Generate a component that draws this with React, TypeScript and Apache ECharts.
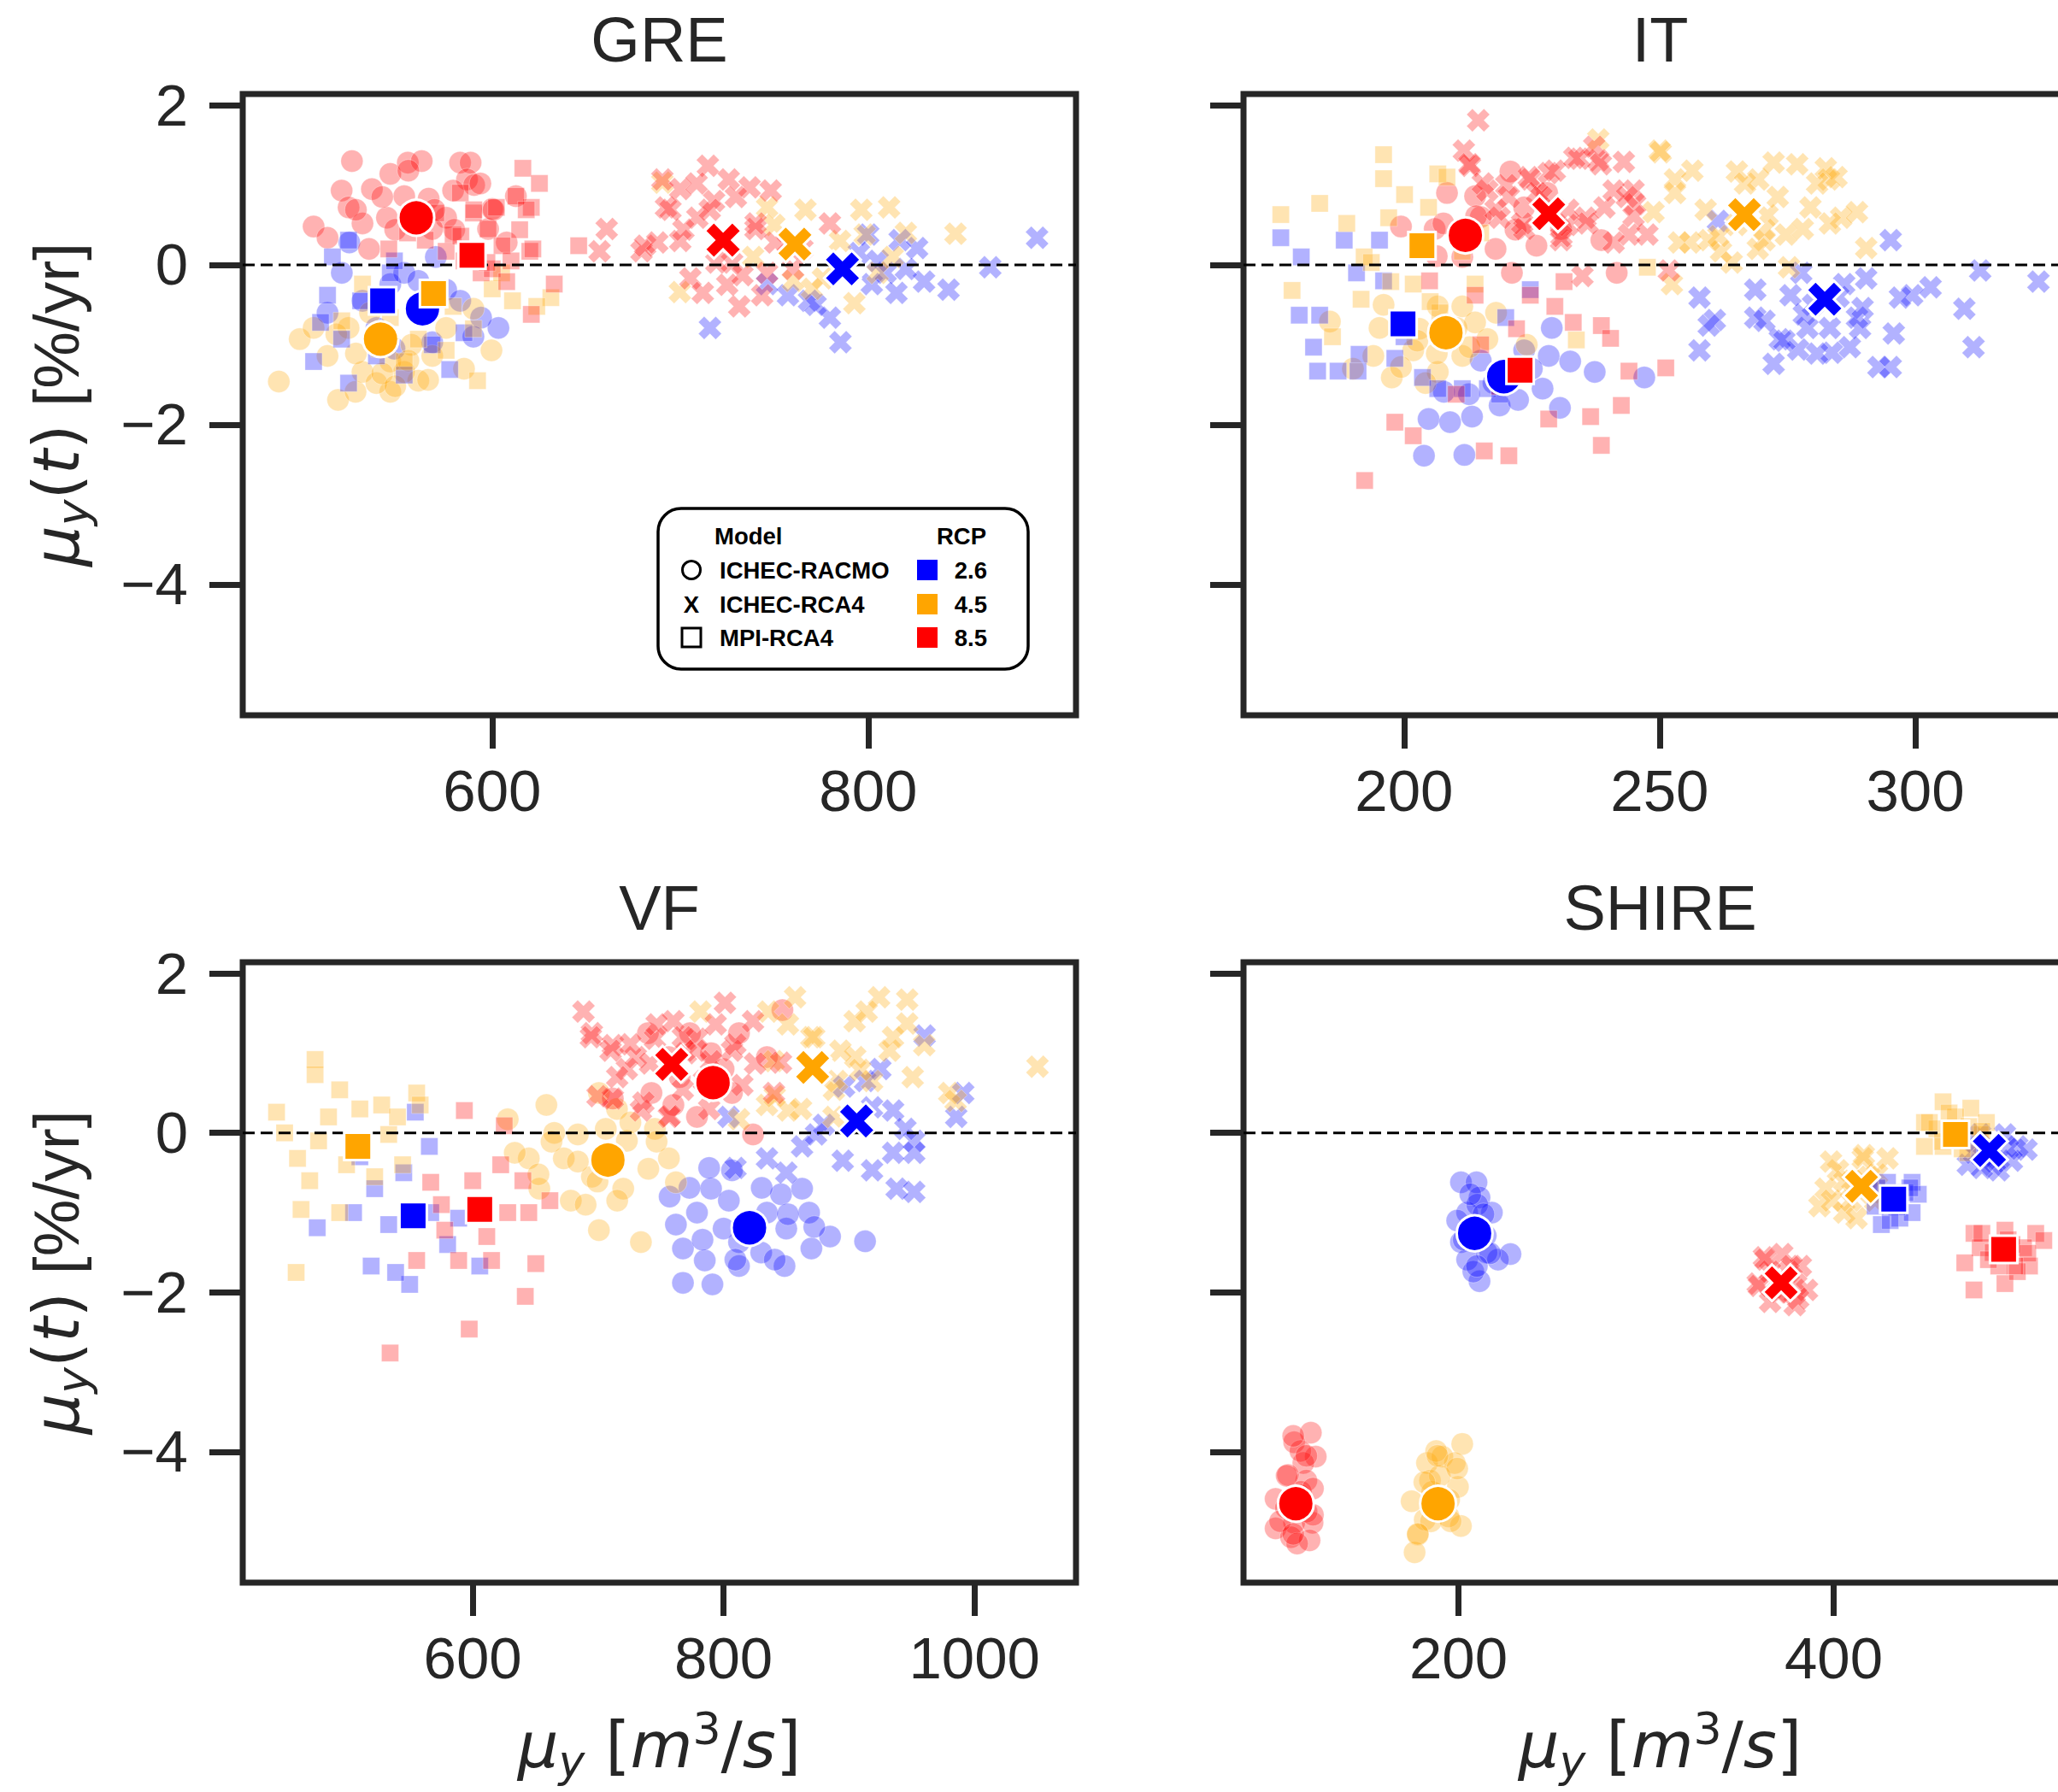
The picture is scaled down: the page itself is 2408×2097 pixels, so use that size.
import React, { useEffect, useRef } from "react";
import * as echarts from "echarts";

type Pts = [number, number][];

// ---------------- DATA ----------------
const PANEL_TITLES = ["GRE", "IT", "VF", "SHIRE"];
const MODEL_LABELS = ["ICHEC-RACMO", "ICHEC-RCA4", "MPI-RCA4"];
const RCP_LABELS = ["2.6", "4.5", "8.5"];
const Y_TICKS = [-4, -2, 0, 2];
const GRE_X_TICKS = [600, 800];
const IT_X_TICKS = [200, 250, 300];
const VF_X_TICKS = [600, 800, 1000];
const SHIRE_X_TICKS = [200, 400];

// GRE
const GRE_RACMO_26: Pts = [[603.3,-0.79],[594.1,-0.66],[524,0.28],[545.8,-0.24],[553.2,-0.1],[575.5,-0.31],[531,-0.45],[538.4,-0.79],[568.1,-0.97],[583,-0.45],[560.7,-0.2],[512.4,-0.6],[590,-0.9],[548,-1.05],[520,-0.1],[570,0.1]];
const GRE_RACMO_45: Pts = [[486.5,-1.46],[497.6,-0.93],[518,-1.69],[527.3,-1.59],[545.8,-1.59],[560.7,-1.45],[599.6,-1.07],[512.4,-1.14],[531,-1.34],[553.2,-1.34],[568.1,-1.14],[575.5,-0.79],[545.8,-1.21],[523.6,-0.79],[505,-0.79],[538.4,-1.48],[557,-1.0],[585,-1.3],[535,-0.6],[590,-0.55],[527.5,-1.11],[541.5,-1.36],[555.4,-1.2],[548.4,-1.52],[565.9,-1.44],[517.1,-0.87]];
const GRE_RACMO_85: Pts = [[525.4,1.3],[519.9,0.93],[505,0.48],[512.4,0.34],[545.8,1.14],[555.1,1.28],[562.5,1.3],[566.2,0.83],[582.9,1.28],[588.5,1.28],[586.6,1.07],[579.2,0.93],[590.4,1.0],[612.6,0.86],[523.6,0.72],[531,0.52],[597.8,0.45],[544,0.59],[575.5,0.59],[568.1,0.45],[553.2,0.86],[536,0.95],[600,0.7],[541.5,0.85],[548.4,0.44],[569.3,0.69],[579.8,0.44],[593.7,1.02],[600.7,0.69],[607.7,0.28],[555.4,1.18],[527.5,0.69],[534.5,0.2]];
const GRE_RCA4_26: Pts = [[715.8,-0.79],[785.2,-0.97],[779.6,-0.66],[768.5,-0.45],[800,0.38],[816.7,0.31],[826,0.21],[829.7,-0.21],[842.7,-0.31],[864.9,-0.03],[889.8,0.34],[801.9,-0.24],[809.3,-0.1],[757.3,-0.38],[746.2,-0.24],[815,-0.35],[795,0.15],[772,-0.5],[820,-0.05],[805,0.05]];
const GRE_RCA4_45: Pts = [[690.5,1.03],[699.8,-0.34],[766.6,0.69],[796.3,0.69],[811.1,0.72],[846.4,0.39],[792.6,-0.48],[746.2,0.72],[738.8,0.1],[775.9,-0.17],[798.1,0.38],[813,0.1],[750,0.5],[770,-0.3],[805,-0.1],[785,0.3],[820,0.4],[760,-0.2]];
const GRE_RCA4_85: Pts = [[690.5,1.07],[714.7,1.24],[725.8,1.07],[736.9,0.97],[748.1,0.93],[692.4,0.72],[679.4,0.17],[660.9,0.45],[657.1,0.17],[681.3,0.24],[709.1,0.59],[731.4,-0.52],[746.2,-0.1],[779.6,0.52],[727.6,0.03],[705.4,-0.17],[757.3,0.26],[700,0.3],[718,0.8],[740,0.45],[712,-0.35],[725,-0.25],[760,-0.05],[700,0.95],[765,0.2],[708.7,1.02],[715.7,0.69],[729.6,0.85],[740.1,0.52],[750.5,0.28],[701.7,0.44],[719.2,0.03],[733.1,-0.13],[743.6,-0.38],[687.8,0.28],[694.8,0.69]];
const GRE_MPI_26: Pts = [[523.6,0.31],[512.4,-0.38],[505,-1.21],[523.6,-1.48],[577.4,-1.31],[553.2,-1.38],[508.7,-0.72],[519.9,-0.93],[545.8,-0.1],[568.1,-1.0],[538.4,-1.14],[530,-0.45],[560,-0.6],[515,0.1],[585,-0.85],[548,0.05]];
const GRE_MPI_45: Pts = [[610.8,-0.45],[631.2,-0.41],[623.7,-0.52],[592.2,-1.45],[560.7,-0.93],[579.2,-0.52],[545.8,-0.66],[531,-0.24],[553.2,-1.21],[575.5,-1.07],[600,-0.3],[590,-0.8],[565,-0.5],[540,-1.05],[520,-0.7],[605,-0.1]];
const GRE_MPI_85: Pts = [[616.3,1.21],[602.2,0.72],[620.8,0.72],[612.6,0.86],[597.8,0.45],[605.2,0.24],[620,0.17],[646,0.24],[633,-0.24],[620.8,-0.62],[579.2,0.38],[594.1,-0.1],[575.5,0.17],[564.4,0.31],[590,0.65],[583,0.9],[570,0.65],[555,0.4],[545,0.2],[610,0.05],[600,-0.05],[585,0.05],[614.6,0.44],[621.6,0.2],[607.7,-0.21],[597.2,0.03],[583.3,0.36],[618.1,0.69],[625.1,1.02],[590.2,0.69]];
const GRE_MEAN_RACMO: Pts = [[562.9,-0.55],[540.6,-0.93],[559.6,0.59]];
const GRE_MEAN_RCA4: Pts = [[786.3,-0.05],[761,0.26],[722.8,0.31]];
const GRE_MEAN_MPI: Pts = [[541.7,-0.45],[568.8,-0.36],[589.2,0.12]];

// IT
const IT_RACMO_26: Pts = [[203.9,-2.39],[211.8,-2.38],[204.8,-1.93],[213.3,-1.9],[209,-1.97],[207.8,-1.59],[212.7,-1.62],[218.7,-1.76],[223.5,-1.07],[228.9,-0.79],[228.3,-1.14],[227.1,-1.55],[230.5,-1.79],[232.5,-1.21],[237.3,-1.34],[247,-1.41],[217.5,-1.48],[222.3,-1.69],[215,-1.2],[225,-1.3]];
const IT_RACMO_45: Pts = [[185.5,-0.71],[194,-1.14],[197.6,-1.41],[195.2,-0.79],[201.8,-1.07],[206.6,-0.52],[211.4,-0.52],[213.9,-0.72],[216.3,-0.93],[206.6,-1.34],[204.2,-1.48],[199.4,-1.28],[211.4,-1.14],[190,-1.3],[203,-0.8],[218,-0.6],[224,-1.0],[196,-0.5],[202.6,-0.95],[206.4,-1.11],[210.3,-0.79],[212.8,-1.03]];
const IT_RACMO_85: Pts = [[208.4,0.9],[220.8,1.17],[238.6,0.31],[241.6,-0.1],[199.4,0.48],[206,0.45],[213.9,0.86],[223.5,0.72],[230.7,0.45],[225.9,0.24],[211.4,0.1],[221.1,-0.1],[215,0.6],[228,0.9],[204,0.2],[207.7,0.52],[214.1,0.61],[217.9,0.2],[206.4,0.11],[221.8,0.44]];
const IT_RCA4_26: Pts = [[257.8,-0.41],[260.8,-0.69],[259.6,-0.76],[257.8,-1.07],[261.4,0.55],[268.7,-0.31],[268.7,-0.66],[272.3,-1.24],[277.1,-1.06],[278.9,-0.79],[273.5,-0.93],[283.7,-1.1],[289.2,-0.79],[288.6,-0.66],[292.8,-1.28],[295.2,-1.28],[295.8,-0.86],[295.2,0.31],[299.4,-0.38],[303,-0.28],[309.6,-0.55],[311.4,-1.03],[312.7,-0.07],[324.1,-0.21],[290.4,-0.17],[286.1,-0.24],[277.7,-0.1],[297,-0.41],[280,-0.5],[285,-0.4],[270.5,-0.7],[274.4,-0.95],[278.2,-0.62],[283.3,-0.79],[287.2,-1.03],[280.8,-1.11],[289.7,-0.54],[275.6,-0.38]];
const IT_RCA4_45: Pts = [[238,1.57],[250.2,1.41],[253,1.07],[253,0.9],[265.1,1.17],[269.3,1.07],[272.3,1.28],[282.5,1.21],[283.1,1.07],[279.5,0.72],[285.5,0.59],[288.6,0.66],[290.4,0.21],[274.7,0.38],[270.5,0.31],[259.6,0.31],[256,0.28],[252.4,-0.24],[275.3,-0.03],[271.1,0.62],[262,0.17],[248.8,0.66],[278,0.45],[265,0.5],[250,1.43],[256.4,1.18],[259,0.69],[261.5,0.36],[269.2,0.2],[273.1,0.85],[276.9,1.26],[280.8,1.02],[283.3,0.52],[266.7,1.02],[270.5,0.44],[253.8,0.28],[284.6,1.1],[264.1,0.03]];
const IT_RCA4_85: Pts = [[214.5,1.81],[211.7,1.43],[212.9,1.24],[224.7,1.07],[228.3,1.15],[234.3,1.33],[238,1.31],[243,1.29],[244.9,0.93],[245.2,0.76],[244,0.38],[235.5,0.59],[239.2,0.72],[234.9,-0.14],[251.8,-0.07],[247.6,0.38],[230.7,0.31],[223.5,0.45],[218.7,0.59],[216.3,0.93],[226,0.9],[220,1.0],[232,0.5],[212.8,1.26],[215.4,1.02],[220.5,0.85],[224.4,1.1],[229.5,1.18],[233.3,1.34],[237.2,1.48],[238.5,1.26],[241,0.93],[243.6,0.85],[244.9,0.61],[235.9,0.52],[230.8,0.36],[223.1,0.52],[217.9,0.69],[241,0.28],[226.9,0.85],[232.1,0.69]];
const IT_MPI_26: Pts = [[175.9,0.34],[179.9,0.1],[188.3,0.31],[195.2,0.31],[190.7,-0.1],[179.5,-0.63],[183.5,-0.63],[182.3,-1.03],[183.1,-1.33],[187.1,-1.33],[191,-1.33],[191.2,-1.12],[198.2,-1.17],[203.6,-1.41],[206.6,-1.55],[211.4,-1.55],[216.3,-1.55],[218.7,-1.62],[219.9,-0.66],[224.7,-0.31],[196,-0.2],[200,-0.9]];
const IT_MPI_45: Pts = [[196,1.38],[196,1.08],[175.9,0.63],[183.5,0.77],[188.8,0.52],[200.1,0.88],[206.6,1.14],[208.4,1.1],[178.1,-0.32],[191.6,-0.43],[247.6,-0.03],[233.7,-0.94],[204.8,0.72],[197,0.59],[201.8,-0.24],[213.9,-0.24],[211.4,0.17],[192.2,0.1],[186,-0.9],[207,-0.6],[215,0.4],[193.6,0.03],[197.4,-0.21],[205.1,-0.46]];
const IT_MPI_85: Pts = [[192.3,-2.7],[198.2,-1.97],[201.8,-2.14],[215.7,-2.33],[220.5,-2.39],[228.3,-1.93],[236.5,-1.9],[238.6,-2.26],[242.5,-1.76],[251.2,-1.29],[244,-1.33],[238.6,-0.76],[240.4,-0.92],[233.1,-0.72],[229.5,-0.52],[231.3,-0.21],[224.7,-0.38],[213.9,-0.38],[210.2,-1.62],[218.7,-1.52],[205,-0.2],[215,-1.0],[222,-0.8]];
const IT_MEAN_RACMO: Pts = [[219.5,-1.4],[208.2,-0.85],[212,0.37]];
const IT_MEAN_RCA4: Pts = [[282.3,-0.43],[266.6,0.63],[228.3,0.64]];
const IT_MEAN_MPI: Pts = [[199.8,-0.74],[203.5,0.24],[222.7,-1.32]];

// VF
const VF_RACMO_26: Pts = [[767.6,-1.88],[791.1,-1.9],[812.3,-1.67],[848.6,-1.67],[912.8,-1.36],[884.9,-1.3],[868.2,-1.0],[845.8,-0.77],[806.7,-0.47],[790,-0.7],[762,-1.15],[767.6,-1.45],[834.6,-1.0],[862.6,-0.7],[812.3,-1.37],[778.8,-1.0],[800,-1.2],[830,-1.5],[850,-1.2],[785,-1.6],[870,-1.45],[757,-0.8],[772.8,-0.69],[788.5,-0.44],[804.2,-0.85],[830.4,-0.69],[851.3,-1.02],[872.3,-1.18],[783.2,-1.34],[809.4,-1.59],[840.8,-1.59]];
const VF_RACMO_45: Pts = [[658.7,0.35],[627.9,0.17],[700.6,-1.22],[734.1,-1.37],[653.1,-0.7],[678.2,-0.85],[695,-0.55],[706.1,0.05],[722.9,-0.1],[745.3,0.05],[756.4,-0.32],[762,-0.62],[672.6,-0.32],[644.7,-0.32],[633.5,-0.25],[683.8,-0.02],[700.6,0.5],[690,-0.9],[720,-0.7],[740,-0.45],[665,0.0],[715,0.3],[662.8,-0.11],[683.8,-0.36],[725.7,0.13],[746.6,-0.11],[699.5,-0.61],[715.2,-0.85],[652.4,-0.52]];
const VF_RACMO_85: Pts = [[846.9,1.54],[739.7,1.25],[742.5,0.5],[711.7,0.43],[773.2,1.25],[812.3,1.25],[778.8,0.2],[823.5,-0.02],[756.4,0.95],[806.7,0.5],[834.6,0.95],[790,1.0],[765,0.7],[760,0.35],[800,0.8]];
const VF_RCA4_26: Pts = [[960.3,1.22],[896.1,0.58],[912.8,0.65],[918.4,0.32],[935.2,0.28],[952,-0.1],[952,-0.25],[938,-0.7],[952,-0.74],[991.1,0.5],[985.5,0.2],[834.6,-0.32],[809.5,-0.44],[803.9,0.2],[862.6,-0.17],[873.7,-0.02],[918.4,-0.47],[935.2,-0.25],[925,0.8],[895,-0.35],[880,0.1],[945,0.05],[850,-0.5]];
const VF_RCA4_45: Pts = [[857,1.7],[781.6,1.52],[924,1.7],[946.4,1.67],[946.4,1.37],[904.5,1.4],[932.4,1.03],[1050.3,0.83],[979.9,0.5],[834.6,0.35],[851.4,0.28],[812.3,0.17],[890.5,0.65],[918.4,0.65],[887.7,0.2],[870,1.2],[905,0.95],[960,1.1],[985,0.4],[840,0.9],[835.6,1.52],[851.3,1.36],[872.3,1.2],[893.2,1.03],[914.1,1.52],[935.1,1.2],[908.9,0.79],[888,0.54],[861.8,0.3],[840.8,0.46],[950.8,0.7]];
const VF_RCA4_85: Pts = [[688.3,1.52],[695,1.25],[711.7,1.1],[711.7,0.43],[722.9,0.8],[745.3,1.18],[778.8,1.18],[801.1,1.63],[823.5,1.4],[806.7,1.03],[784.4,0.65],[756.4,0.2],[734.1,0.28],[840.2,0.5],[845.8,0.88],[770,1.0],[730,0.95],[790,0.9],[760,1.4],[815,0.6],[694.2,1.2],[709.9,1.03],[725.7,1.11],[741.4,0.87],[715.2,0.7],[746.6,1.36],[767.5,1.2],[778,1.03],[793.7,1.36],[809.4,1.11],[825.1,0.87],[736.1,0.38],[767.5,0.54],[788.5,0.3],[699.5,0.46],[757.1,0.21]];
const VF_MPI_26: Pts = [[476,-1.19],[519,-1.67],[549.7,-1.9],[554.2,0.26],[565.4,-0.17],[521.8,-0.7],[505,-1.0],[533,-1.15],[566.5,-1.0],[605.6,-1.67],[588.8,-1.07],[538.5,-1.75],[510,-0.3],[545,-0.5],[580,-1.4]];
const VF_MPI_45: Pts = [[474.3,0.92],[474.3,0.73],[443.6,0.26],[459.2,-1.75],[463.1,-0.96],[493.9,0.54],[527.4,0.35],[555.3,0.5],[558.1,0.35],[460.3,-0.32],[477.1,-0.1],[499.4,-0.4],[521.8,-0.55],[533,-0.02],[493.9,-1.0],[544.1,-0.4],[450,0.0],[485,0.2],[510,0.3],[470,-0.6],[540,0.2]];
const VF_MPI_85: Pts = [[534.1,-2.76],[597.2,-2.46],[641.9,-2.05],[593.3,0.28],[625.1,0.09],[650.3,-1.64],[644.7,-1.0],[622.3,-0.4],[611.2,-1.3],[577.7,-1.22],[566.5,-0.62],[588.8,-1.6],[555.3,-1.6],[627.9,-1.0],[661.5,-0.85],[600,-0.6],[640,-0.6],[615,-1.6],[575,-0.9]];
const VF_MEAN_RACMO: Pts = [[820.7,-1.19],[707.8,-0.34],[791.6,0.63]];
const VF_MEAN_RCA4: Pts = [[906.1,0.15],[871,0.82],[758.7,0.86]];
const VF_MEAN_MPI: Pts = [[552.5,-1.04],[508.4,-0.17],[605.6,-0.96]];

// SHIRE
const SH_RACMO_26: Pts = [[201.3,-0.62],[209.6,-0.62],[211.2,-0.81],[204.6,-1.0],[217.8,-1.0],[214.5,-1.29],[201.3,-1.37],[227.7,-1.52],[221.1,-1.59],[204.6,-1.59],[211.2,-1.86],[207.9,-1.74],[205,-1.2],[215,-1.5],[210,-0.9],[206.3,-0.77],[213.3,-1.02],[202.8,-1.34],[216.8,-1.51],[209.8,-1.67],[199.3,-1.1]];
const SH_RACMO_45: Pts = [[202,-3.9],[183.2,-4.14],[191.4,-4.06],[198,-4.14],[184.8,-4.36],[199.7,-4.44],[175,-4.62],[178.3,-5.04],[176.6,-5.26],[201.3,-4.93],[194.7,-4.81],[188.1,-3.99],[186,-4.5],[195,-4.6],[182,-4.85],[190,-4.3],[188.8,-4.05],[199.3,-4.21],[181.8,-4.38],[192.3,-4.62],[185.3,-4.87],[178.3,-5.03],[195.8,-4.87]];
const SH_RACMO_85: Pts = [[121.3,-3.76],[112.4,-3.88],[123.9,-4.06],[117.3,-4.14],[118.9,-4.36],[102.5,-4.59],[112.4,-4.89],[102.5,-4.96],[122.2,-4.89],[110.7,-5.07],[120.6,-5.11],[115.7,-3.99],[109.1,-4.29],[116,-4.5],[108,-4.7],[119,-4.75],[114,-5.15],[111.9,-3.8],[118.9,-4.05],[108.4,-4.3],[115.4,-4.54],[122.4,-4.79],[104.9,-4.87],[111.9,-5.03],[122.4,-4.46]];
const SH_RCA4_26: Pts = [[471.5,-0.4],[478.1,-0.02],[491.3,-0.02],[497.9,-0.17],[502.8,-0.21],[488,-0.47],[474.8,-0.25],[484.7,-0.4],[480,-0.3],[495,-0.35],[475.5,-0.11],[486,-0.36],[493,-0.2],[479,-0.44]];
const SH_RCA4_45: Pts = [[395.7,-0.7],[402.3,-0.47],[415.5,-0.32],[428.7,-0.32],[392.4,-0.92],[405.6,-1.0],[422.1,-0.85],[412.2,-1.07],[399,-0.85],[418.8,-0.55],[410,-0.6],[420,-0.75],[398.6,-0.36],[405.6,-0.61],[416.1,-0.28],[423.1,-0.52],[409.1,-0.85]];
const SH_RCA4_85: Pts = [[362.8,-1.56],[372.6,-1.52],[382.5,-1.67],[359.5,-1.89],[385.8,-1.97],[366.1,-2.12],[379.2,-2.16],[376,-1.74],[366.1,-1.74],[370,-2.0],[380,-1.9],[363.6,-1.59],[377.6,-1.67],[370.6,-2.0],[381.1,-2.08],[360.1,-1.92]];
const SH_MPI_26: Pts = [[428.7,-0.62],[441.8,-0.62],[445.1,-0.77],[422.1,-0.92],[435.3,-1.07],[425.4,-1.15],[441.8,-1.0],[418.8,-0.7],[432,-0.9],[438,-0.75],[423.1,-0.69],[433.6,-0.93],[440.6,-0.69],[430.1,-1.1]];
const SH_MPI_45: Pts = [[458.3,0.39],[473.1,0.31],[448.4,0.13],[448.4,-0.17],[458.3,-0.17],[471.5,-0.25],[481.4,0.13],[478.1,-0.02],[464.9,0.2],[455,0.05],[468,-0.1],[451,0.13],[461.5,0.25],[472,0.08],[458,-0.11],[468.5,-0.2],[479,0.02]];
const SH_MPI_85: Pts = [[474.8,-1.26],[491.3,-1.22],[507.7,-1.26],[501.2,-1.44],[478.1,-1.44],[488,-1.67],[504.4,-1.67],[491.3,-1.89],[474.8,-1.97],[469.9,-1.63],[497.9,-1.74],[485,-1.5],[495,-1.4],[512,-1.35],[479,-1.26],[493,-1.34],[503.5,-1.51],[482.5,-1.59],[496.5,-1.67]];
const SH_MEAN_RACMO: Pts = [[208.6,-1.26],[189.1,-4.65],[113.3,-4.65]];
const SH_MEAN_RCA4: Pts = [[483,-0.22],[414.8,-0.67],[372,-1.88]];
const SH_MEAN_MPI: Pts = [[432,-0.83],[464.9,-0.02],[490.6,-1.46]];

// ---------------- STYLE / LAYOUT ----------------
const RCP_COLORS = ["#0000ff", "#ffa500", "#ff0000"];
const INK = "#262626";
const SANS = "'Liberation Sans', Arial, Helvetica, sans-serif";
const MATH = "'DejaVu Sans', sans-serif";
const SYMBOL_X =
  "path://M2.5,0L5,2.5L7.5,0L10,2.5L7.5,5L10,7.5L7.5,10L5,7.5L2.5,10L0,7.5L2.5,5L0,2.5Z";
const MODEL_SYMBOLS = ["circle", SYMBOL_X, "rect"];
const SMALL_SIZES = [26, 27, 20];
const MEAN_SIZES = [42, 43, 32];
const Y_MIN = -5.64;
const Y_MAX = 2.14;
const GRID_W = 975;
const TICK_FS = 69;

const PANELS = [
  { left: 284, top: 110, height: 727, xMin: 467.3, xMax: 910.5, xTicks: GRE_X_TICKS, showY: true,
    clouds: [[GRE_RACMO_26, GRE_RACMO_45, GRE_RACMO_85], [GRE_RCA4_26, GRE_RCA4_45, GRE_RCA4_85], [GRE_MPI_26, GRE_MPI_45, GRE_MPI_85]],
    means: [GRE_MEAN_RACMO, GRE_MEAN_RCA4, GRE_MEAN_MPI] },
  { left: 1455, top: 110, height: 727, xMin: 168.6, xMax: 331.6, xTicks: IT_X_TICKS, showY: false,
    clouds: [[IT_RACMO_26, IT_RACMO_45, IT_RACMO_85], [IT_RCA4_26, IT_RCA4_45, IT_RCA4_85], [IT_MPI_26, IT_MPI_45, IT_MPI_85]],
    means: [IT_MEAN_RACMO, IT_MEAN_RCA4, IT_MEAN_MPI] },
  { left: 284, top: 1126, height: 726, xMin: 416.6, xMax: 1081, xTicks: VF_X_TICKS, showY: true,
    clouds: [[VF_RACMO_26, VF_RACMO_45, VF_RACMO_85], [VF_RCA4_26, VF_RCA4_45, VF_RCA4_85], [VF_MPI_26, VF_MPI_45, VF_MPI_85]],
    means: [VF_MEAN_RACMO, VF_MEAN_RCA4, VF_MEAN_MPI] },
  { left: 1455, top: 1126, height: 726, xMin: 85.4, xMax: 529.6, xTicks: SHIRE_X_TICKS, showY: false,
    clouds: [[SH_RACMO_26, SH_RACMO_45, SH_RACMO_85], [SH_RCA4_26, SH_RCA4_45, SH_RCA4_85], [SH_MPI_26, SH_MPI_45, SH_MPI_85]],
    means: [SH_MEAN_RACMO, SH_MEAN_RCA4, SH_MEAN_MPI] },
];

const minus = (v: number) => (v < 0 ? "\u2212" + Math.abs(v) : String(v));

function buildOption() {
  const grid: any[] = [];
  const xAxis: any[] = [];
  const yAxis: any[] = [];
  const series: any[] = [];
  const graphic: any[] = [];

  PANELS.forEach((p, i) => {
    grid.push({
      left: p.left, top: p.top, width: GRID_W, height: p.height,
      show: true, borderColor: INK, borderWidth: 7, backgroundColor: "transparent",
    });
    xAxis.push({
      type: "value", gridIndex: i, min: p.xMin, max: p.xMax, position: "bottom",
      axisLine: { show: false, onZero: false }, splitLine: { show: false },
      axisTick: { show: true, inside: false, length: 39, customValues: p.xTicks, lineStyle: { color: INK, width: 7 } },
      axisLabel: { show: true, customValues: p.xTicks, margin: 54, fontSize: TICK_FS, color: INK, fontFamily: SANS, formatter: (v: number) => String(v) },
    });
    yAxis.push({
      type: "value", gridIndex: i, min: Y_MIN, max: Y_MAX, position: "left",
      axisLine: { show: false, onZero: false }, splitLine: { show: false },
      axisTick: { show: true, inside: false, length: 39, customValues: Y_TICKS, lineStyle: { color: INK, width: 7 } },
      axisLabel: { show: p.showY, customValues: Y_TICKS, margin: 64, fontSize: TICK_FS, color: INK, fontFamily: SANS, formatter: minus },
    });

    p.clouds.forEach((modelClouds, m) => {
      modelClouds.forEach((pts, r) => {
        series.push({
          type: "scatter", name: PANEL_TITLES[i] + " " + MODEL_LABELS[m] + " " + RCP_LABELS[r],
          xAxisIndex: i, yAxisIndex: i, data: pts, symbol: MODEL_SYMBOLS[m], symbolSize: SMALL_SIZES[m],
          itemStyle: { color: RCP_COLORS[r], opacity: 0.3, borderColor: "#ffffff", borderWidth: 1 },
          z: 2, silent: true,
        });
      });
    });

    series.push({
      type: "line", xAxisIndex: i, yAxisIndex: i, data: [[p.xMin, 0], [p.xMax, 0]],
      symbol: "none", silent: true, z: 3,
      lineStyle: { color: "#000000", width: 3, type: [14, 7] },
    });

    p.means.forEach((mpts, m) => {
      mpts.forEach((pt, r) => {
        series.push({
          type: "scatter", name: PANEL_TITLES[i] + " mean " + MODEL_LABELS[m] + " " + RCP_LABELS[r],
          xAxisIndex: i, yAxisIndex: i, data: [pt], symbol: MODEL_SYMBOLS[m], symbolSize: MEAN_SIZES[m],
          itemStyle: { color: RCP_COLORS[r], opacity: 1, borderColor: "#ffffff", borderWidth: 3 },
          z: 4, silent: true,
        });
      });
    });

    graphic.push({
      type: "text", x: p.left + GRID_W / 2, y: p.top - 64,
      style: { text: PANEL_TITLES[i], fontSize: 74, fontFamily: SANS, fill: INK, align: "center", verticalAlign: "middle" },
    });
  });

  const LFS = 75;
  const mathRich = {
    m: { fontFamily: MATH, fontStyle: "italic", fontSize: LFS, lineHeight: 90, fill: INK },
    n: { fontFamily: MATH, fontSize: LFS, lineHeight: 90, fill: INK },
    r: { fontFamily: SANS, fontSize: LFS, lineHeight: 90, fill: INK },
    s: { fontFamily: MATH, fontStyle: "italic", fontSize: 52, lineHeight: 52, verticalAlign: "bottom", fill: INK },
    p: { fontFamily: MATH, fontSize: 52, lineHeight: 42, verticalAlign: "top", fill: INK },
  };

  [0, 2].forEach((i) => {
    const p = PANELS[i];
    graphic.push({
      type: "text", x: 66, y: p.top + p.height / 2, rotation: Math.PI / 2,
      style: { text: "{m|\u03bc}{s|y}{n|(}{m|t}{n|)}{r| [%/yr]}", rich: mathRich, align: "center", verticalAlign: "middle" },
    });
  });
  [2, 3].forEach((i) => {
    const p = PANELS[i];
    graphic.push({
      type: "text", x: p.left + GRID_W / 2, y: 2042,
      style: { text: "{m|\u03bc}{s|y}{n| [}{m|m}{p|3}{n|/}{m|s}{n|]}", rich: mathRich, align: "center", verticalAlign: "middle" },
    });
  });

  // legend
  const lx = 770, ly = 595;
  const bold = { fontFamily: SANS, fontWeight: "bold", fontSize: 27.5, fill: "#000000", verticalAlign: "middle" };
  const rowY = [667, 707, 746];
  const legendChildren: any[] = [
    { type: "rect", shape: { x: lx, y: ly, width: 433, height: 188, r: 27 }, style: { fill: "#ffffff", stroke: "#000000", lineWidth: 3.5 } },
    { type: "text", x: 836, y: 627, style: { ...bold, text: "Model", align: "left" } },
    { type: "text", x: 1125, y: 627, style: { ...bold, text: "RCP", align: "center" } },
    { type: "circle", shape: { cx: 809, cy: rowY[0], r: 10.5 }, style: { fill: "none", stroke: "#000000", lineWidth: 3 } },
    { type: "text", x: 809, y: rowY[1], style: { ...bold, text: "X", align: "center" } },
    { type: "rect", shape: { x: 798, y: rowY[2] - 11, width: 22, height: 22 }, style: { fill: "none", stroke: "#000000", lineWidth: 3 } },
  ];
  MODEL_LABELS.forEach((lab, k) => {
    legendChildren.push({ type: "text", x: 842, y: rowY[k], style: { ...bold, text: lab, align: "left" } });
  });
  RCP_LABELS.forEach((lab, k) => {
    legendChildren.push({ type: "rect", shape: { x: 1073, y: rowY[k] - 12, width: 24, height: 24 }, style: { fill: RCP_COLORS[k] } });
    legendChildren.push({ type: "text", x: 1155, y: rowY[k], style: { ...bold, text: lab, align: "right" } });
  });
  graphic.push({ type: "group", z: 100, children: legendChildren });

  return {
    animation: false,
    backgroundColor: "#ffffff",
    grid, xAxis, yAxis, series, graphic,
  };
}

export default function App() {
  const ref = useRef<HTMLDivElement>(null);
  useEffect(() => {
    document.body.style.margin = "0";
    document.body.style.overflow = "hidden";
    document.documentElement.style.overflow = "hidden";
    if (!ref.current) return;
    const chart = echarts.init(ref.current, undefined, { renderer: "svg" });
    chart.setOption(buildOption() as any);
    return () => chart.dispose();
  }, []);
  return <div ref={ref} style={{ width: 2440, height: 2097 }} />;
}
